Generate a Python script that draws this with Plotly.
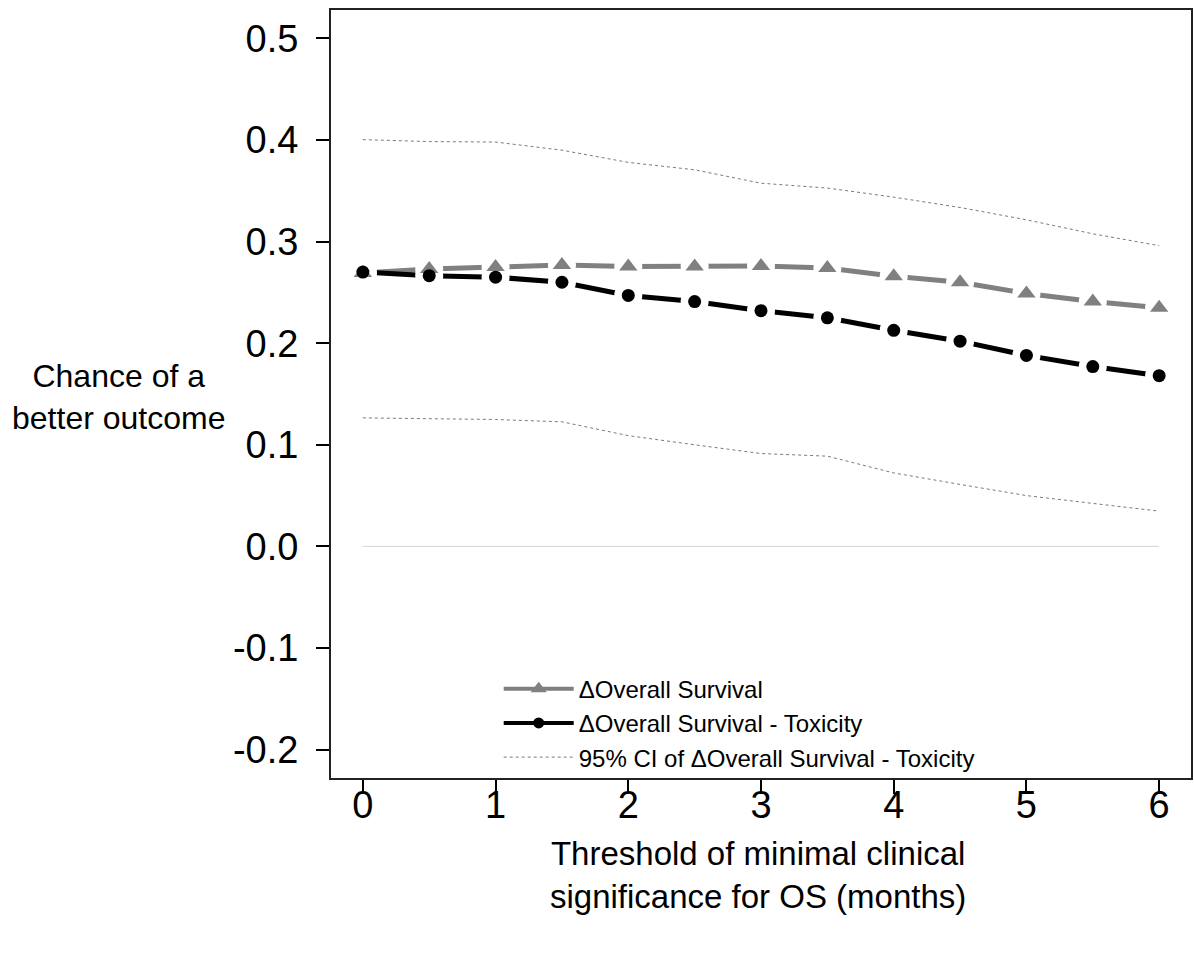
import plotly.graph_objects as go

# ---- data ----
thresholds = [0, 0.5, 1, 1.5, 2, 2.5, 3, 3.5, 4, 4.5, 5, 5.5, 6]
os_delta = [0.269, 0.273, 0.275, 0.277, 0.2755, 0.2755, 0.276, 0.274, 0.266, 0.260, 0.249, 0.241, 0.235]
os_tox_delta = [0.270, 0.2665, 0.265, 0.260, 0.247, 0.241, 0.232, 0.225, 0.2127, 0.202, 0.188, 0.177, 0.168]
ci_upper = [0.4004, 0.3985, 0.398, 0.390, 0.378, 0.3707, 0.3575, 0.3527, 0.3438, 0.3336, 0.3215, 0.3077, 0.296]
ci_lower = [0.1265, 0.126, 0.1249, 0.1226, 0.109, 0.100, 0.0914, 0.0888, 0.0723, 0.061, 0.050, 0.0423, 0.0347]
zero_line = [0] * len(thresholds)

x_ticks = [0, 1, 2, 3, 4, 5, 6]
y_ticks = [-0.2, -0.1, 0.0, 0.1, 0.2, 0.3, 0.4, 0.5]
y_tick_labels = ["-0.2", "-0.1", "0.0", "0.1", "0.2", "0.3", "0.4", "0.5"]

FONT = "Liberation Sans, Arial, sans-serif"
GRAY = "#808080"
DOT = "#7a7a7a"
X_RANGE = [-0.24, 6.24]
Y_RANGE = [-0.228, 0.528]

fig = go.Figure()

# ---- base layer: lines ----
fig.add_trace(go.Scatter(
    x=thresholds, y=zero_line, mode="lines",
    line=dict(color="#d4d4d4", width=1), showlegend=False, hoverinfo="skip"))
for ci in (ci_upper, ci_lower):
    fig.add_trace(go.Scatter(
        x=thresholds, y=ci, mode="lines",
        line=dict(color=DOT, width=1, dash="dot"), showlegend=False))
fig.add_trace(go.Scatter(
    x=thresholds, y=os_delta, mode="lines",
    line=dict(color=GRAY, width=5), showlegend=False))
fig.add_trace(go.Scatter(
    x=thresholds, y=os_tox_delta, mode="lines",
    line=dict(color="black", width=5), showlegend=False))

# ---- overlay layer: white halos (R type="b" gaps) then point symbols ----
for series in (os_delta, os_tox_delta):
    fig.add_trace(go.Scatter(
        x=thresholds, y=series, mode="markers", xaxis="x2", yaxis="y2",
        marker=dict(symbol="circle", size=28, color="white"),
        showlegend=False, hoverinfo="skip"))
fig.add_trace(go.Scatter(
    x=thresholds, y=os_delta, mode="markers", xaxis="x2", yaxis="y2",
    marker=dict(symbol="triangle-up", size=16, color=GRAY), showlegend=False))
fig.add_trace(go.Scatter(
    x=thresholds, y=os_tox_delta, mode="markers", xaxis="x2", yaxis="y2",
    marker=dict(symbol="circle", size=13, color="black"), showlegend=False))

# ---- legend entries ----
fig.add_trace(go.Scatter(
    x=[None], y=[None], mode="lines+markers", name="\u0394Overall Survival",
    line=dict(color=GRAY, width=4), marker=dict(symbol="triangle-up", size=14, color=GRAY)))
fig.add_trace(go.Scatter(
    x=[None], y=[None], mode="lines+markers", name="\u0394Overall Survival - Toxicity",
    line=dict(color="black", width=4), marker=dict(symbol="circle", size=11, color="black")))
fig.add_trace(go.Scatter(
    x=[None], y=[None], mode="lines",
    name="95% CI of \u0394Overall Survival - Toxicity",
    line=dict(color=DOT, width=1, dash="dot")))

fig.update_layout(
    width=1194, height=968,
    margin=dict(l=331, r=1, t=10, b=190),
    paper_bgcolor="white", plot_bgcolor="white",
    font=dict(family=FONT, color="black"),
    showlegend=True,
    legend=dict(x=0.195, y=0.145, xanchor="left", yanchor="top",
                bgcolor="rgba(0,0,0,0)", font=dict(size=24, family=FONT),
                itemwidth=70, tracegroupgap=0),
    xaxis=dict(range=X_RANGE, tickvals=x_ticks, ticks="outside", ticklen=14,
               tickwidth=1.5, tickcolor="black", showline=True, linecolor="#222222",
               linewidth=2, mirror=True, showgrid=False, zeroline=False,
               tickfont=dict(size=38, family=FONT), ticklabelstandoff=-22),
    yaxis=dict(range=Y_RANGE, tickvals=y_ticks, ticktext=y_tick_labels,
               ticks="outside", ticklen=13, tickwidth=1.5, tickcolor="black",
               showline=True, linecolor="#222222", linewidth=2, mirror=True,
               showgrid=False, zeroline=False,
               tickfont=dict(size=38, family=FONT), ticklabelstandoff=10),
    xaxis2=dict(range=X_RANGE, overlaying="x", visible=False, showgrid=False,
                zeroline=False),
    yaxis2=dict(range=Y_RANGE, overlaying="y", visible=False, showgrid=False,
                zeroline=False),
    annotations=[
        dict(text="Chance of a<br>better outcome", xref="paper", yref="paper",
             x=-0.247, y=0.496, xanchor="center", yanchor="middle", align="center",
             showarrow=False, font=dict(size=32, family=FONT)),
        dict(text="Threshold of minimal clinical<br>significance for OS (months)",
             xref="paper", yref="paper", x=0.497, y=-0.126, xanchor="center",
             yanchor="middle", align="center", showarrow=False,
             font=dict(size=33, family=FONT)),
    ],
)

fig.write_html("out.html")
